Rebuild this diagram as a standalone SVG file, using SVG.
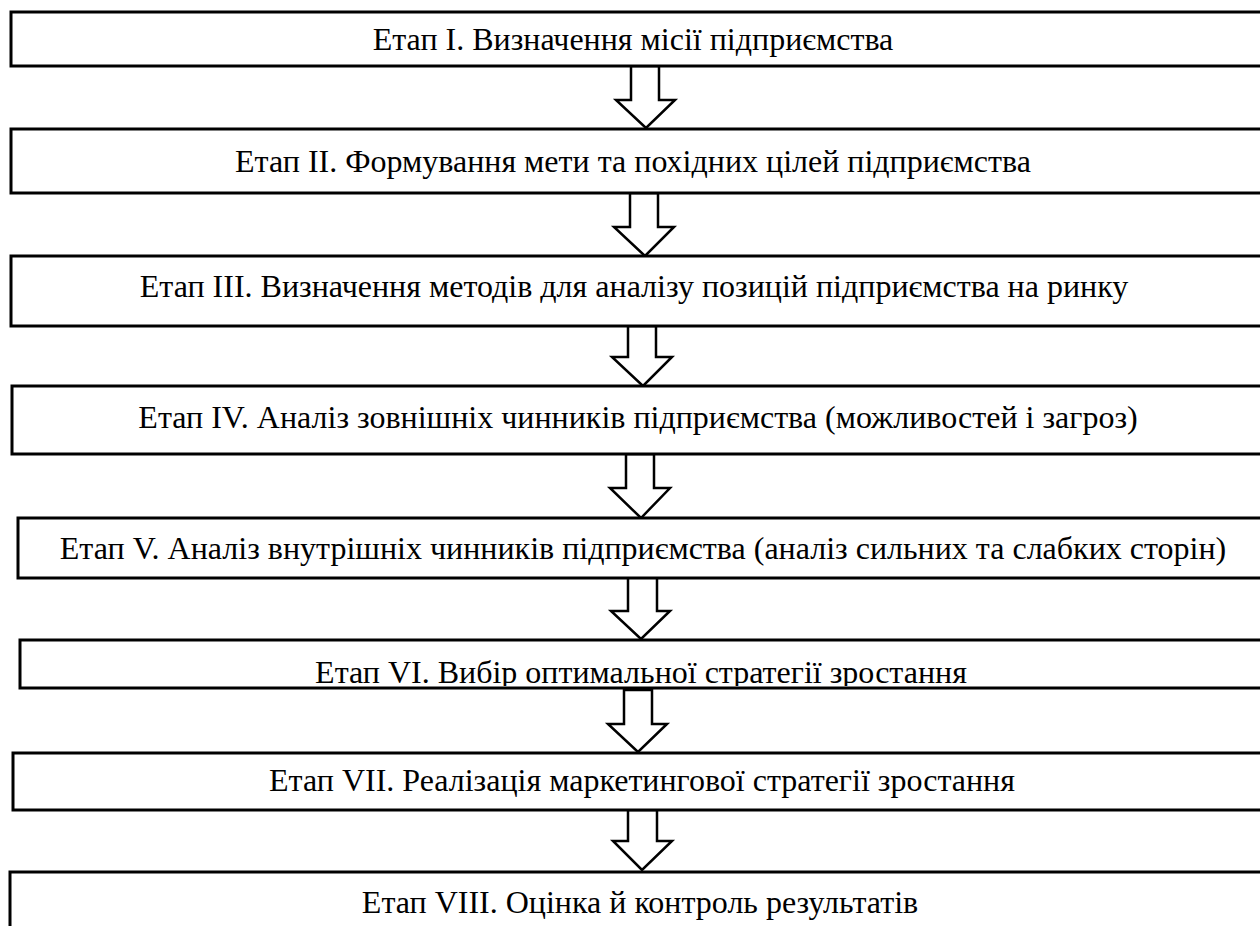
<svg xmlns="http://www.w3.org/2000/svg" width="1260" height="926" viewBox="0 0 1260 926">
<style>
.box{fill:#fff;stroke:#000;stroke-width:3}
.arr{fill:#fff;stroke:#000;stroke-width:2.5;stroke-linejoin:miter}
.t{font-family:'Liberation Serif','Times New Roman','DejaVu Serif',serif;font-size:32px;fill:#000;text-anchor:middle}
</style>
<defs>
<clipPath id="c6"><rect x="20" y="640" width="1260" height="46"/></clipPath>
</defs>
<rect width="1260" height="926" fill="#fff"/>
<g id="connectors">
<polygon class="arr" points="631,66 659,66 659,100 675,100 646,128 616,100 631,100"/>
<polygon class="arr" points="630,193 658,193 658,227 674,227 645,256 614,227 630,227"/>
<polygon class="arr" points="628,326 656,326 656,357 672,357 643,386 612,357 628,357"/>
<polygon class="arr" points="626,454 654,454 654,488 670,488 641,518 610,488 626,488"/>
<polygon class="arr" points="628,577 657,577 657,611 670,611 641,639 611,611 628,611"/>
<polygon class="arr" points="624,690 652,690 652,724 667,724 638,752 608,724 624,724"/>
<polygon class="arr" points="628,810 657,810 657,841 672,841 642,870 613,841 628,841"/>
</g>
<g id="n1"><rect class="box" x="11" y="12" width="1270" height="54"/><text class="t" x="633" y="50">Етап I. Визначення місії підприємства</text></g>
<g id="n2"><rect class="box" x="11" y="129" width="1270" height="64"/><text class="t" x="633" y="172">Етап II. Формування мети та похідних цілей підприємства</text></g>
<g id="n3"><rect class="box" x="11" y="256" width="1270" height="70"/><text class="t" x="634" y="297">Етап III. Визначення методів для аналізу позицій підприємства на ринку</text></g>
<g id="n4"><rect class="box" x="12" y="386" width="1270" height="68"/><text class="t" x="638" y="428">Етап IV. Аналіз зовнішніх чинників підприємства (можливостей і загроз)</text></g>
<g id="n5"><rect class="box" x="18" y="518" width="1270" height="60"/><text class="t" x="643" y="559">Етап V. Аналіз внутрішніх чинників підприємства (аналіз сильних та слабких сторін)</text></g>
<g id="n6"><rect class="box" x="20" y="640" width="1270" height="48"/><text class="t" x="641" y="683" clip-path="url(#c6)">Етап VI. Вибір оптимальної стратегії зростання</text></g>
<g id="n7"><rect class="box" x="13" y="753" width="1270" height="57"/><text class="t" x="642" y="791">Етап VII. Реалізація маркетингової стратегії зростання</text></g>
<g id="n8"><rect class="box" x="10" y="872" width="1270" height="70"/><text class="t" x="640" y="913">Етап VIII. Оцінка й контроль результатів</text></g>
</svg>
